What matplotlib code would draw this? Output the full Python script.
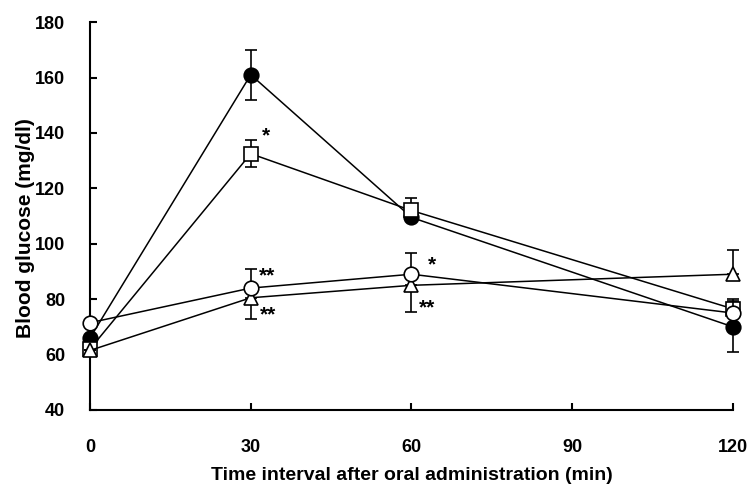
import numpy as np
import matplotlib
matplotlib.use("Agg")
import matplotlib.pyplot as plt

plt.rcParams["font.family"] = ["Liberation Sans", "DejaVu Sans"]
plt.rcParams["font.weight"] = "bold"

# Time points (min)
times = [0, 30, 60, 120]

# Blood glucose (mg/dl) for each group, with lower / upper error
control = [66, 161, 109.5, 70]
control_lo = [0, 9, 0, 9]
control_hi = [0, 9, 0, 0]

square = [62, 132.5, 112, 76.5]
square_lo = [2.5, 4.8, 0, 0]
square_hi = [0, 4.8, 4.5, 3.5]

triangle = [61.5, 80.5, 85, 89]
triangle_lo = [0, 7.6, 9.5, 0]
triangle_hi = [0, 0, 0, 8.7]

circle = [71.5, 84, 89, 75]
circle_lo = [0, 0, 0, 0]
circle_hi = [0, 6.8, 7.8, 4.5]

# significance marks: (x, y, text)
marks = [(32, 139, "*"), (31.6, 88.5, "**"), (31.8, 74.5, "**"),
         (63, 92.5, "*"), (61.4, 77, "**")]

fig = plt.figure(figsize=(7.52, 4.91), dpi=100)
ax = fig.add_axes([0.1197, 0.165, 0.855, 0.79])

groups = [
    (control, control_lo, control_hi, "o", "black", 10.5),
    (square, square_lo, square_hi, "s", "white", 9.5),
    (triangle, triangle_lo, triangle_hi, "^", "white", 10.5),
    (circle, circle_lo, circle_hi, "o", "white", 10.5),
]
for i, (vals, lo, hi, mk, fc, ms) in enumerate(groups):
    ax.errorbar(times, vals, yerr=[lo, hi], color="black", lw=1.1,
                marker=mk, markersize=ms, markerfacecolor=fc,
                markeredgecolor="black", markeredgewidth=1.2,
                ecolor="black", elinewidth=1.2, capsize=4, capthick=1.2,
                zorder=3 + i, clip_on=False)

for x, y, t in marks:
    ax.text(x, y, t, fontsize=15, fontweight="bold", ha="left", va="center")

ax.set_xlim(0, 120)
ax.set_ylim(40, 180)
ax.set_xticks([0, 30, 60, 90, 120])
ax.set_yticks(np.arange(40, 181, 20))
ax.tick_params(direction="in", length=5, width=1.5, labelsize=13)
ax.tick_params(axis="x", pad=21)
ax.tick_params(axis="y", pad=18)
for lab in ax.get_xticklabels() + ax.get_yticklabels():
    lab.set_fontweight("bold")
ax.spines["top"].set_visible(False)
ax.spines["right"].set_visible(False)
ax.spines["left"].set_linewidth(1.5)
ax.spines["bottom"].set_linewidth(1.5)

ax.set_xlabel("Time interval after oral administration (min)", fontsize=14,
              fontweight="bold", labelpad=8)
ax.set_ylabel("Blood glucose (mg/dl)", fontsize=15, fontweight="bold")
ax.yaxis.set_label_coords(-0.085, 0.47)

fig.savefig("out.png", dpi=100)
